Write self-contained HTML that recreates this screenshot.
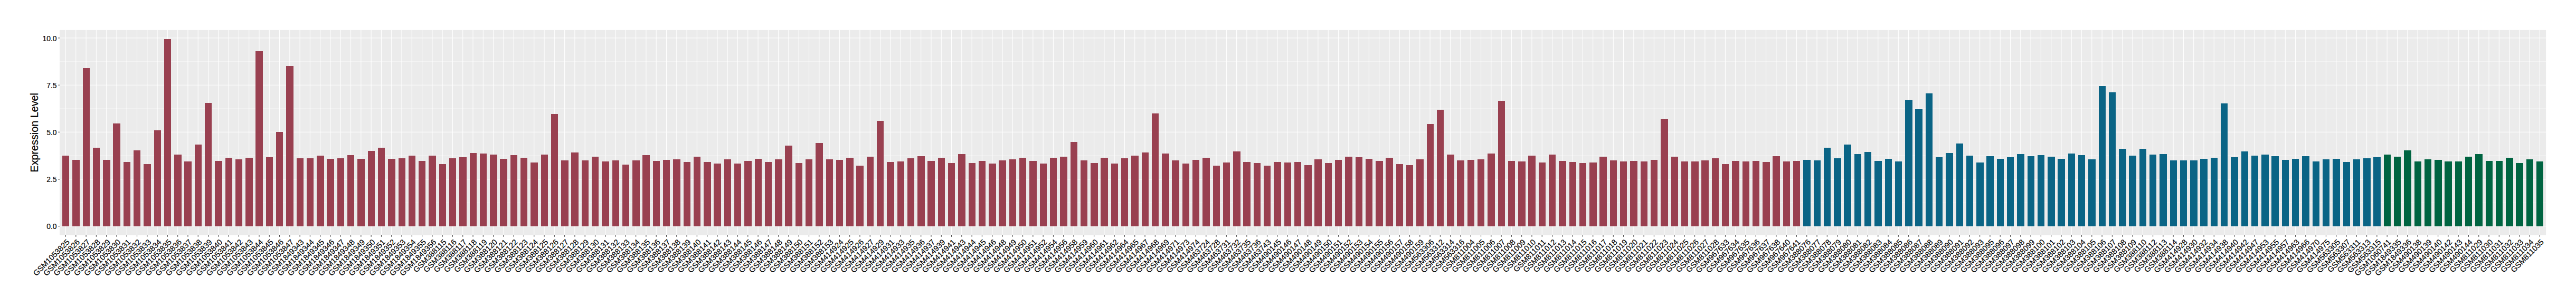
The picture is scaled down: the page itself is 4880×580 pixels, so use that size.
<!DOCTYPE html>
<html lang="en"><head><meta charset="utf-8"><title>Expression Level</title>
<style>html,body{margin:0;padding:0;background:#fff}body{width:4880px;height:580px;overflow:hidden}svg{display:block}text{font-family:"Liberation Sans",sans-serif;fill:#000;stroke:#000;stroke-width:0.2px}.a{font-size:14.67px}.t{font-size:19.75px;stroke-width:0.25px}</style></head><body>
<svg width="4880" height="580" viewBox="0 0 4880 580">
<rect width="4880" height="580" fill="#fff"/>
<rect x="112.95" y="56.85" width="4710.20" height="388.90" fill="#EBEBEB"/>
<path d="M112.95 384.20H4823.15M112.95 295.00H4823.15M112.95 205.80H4823.15M112.95 116.60H4823.15" stroke="#fff" stroke-width="0.53" fill="none"/>
<path d="M112.95 428.80H4823.15M112.95 339.60H4823.15M112.95 250.40H4823.15M112.95 161.20H4823.15M112.95 72.00H4823.15M124.50 56.85V445.75M143.79 56.85V445.75M163.08 56.85V445.75M182.36 56.85V445.75M201.65 56.85V445.75M220.94 56.85V445.75M240.23 56.85V445.75M259.52 56.85V445.75M278.80 56.85V445.75M298.09 56.85V445.75M317.38 56.85V445.75M336.67 56.85V445.75M355.96 56.85V445.75M375.24 56.85V445.75M394.53 56.85V445.75M413.82 56.85V445.75M433.11 56.85V445.75M452.40 56.85V445.75M471.68 56.85V445.75M490.97 56.85V445.75M510.26 56.85V445.75M529.55 56.85V445.75M548.84 56.85V445.75M568.12 56.85V445.75M587.41 56.85V445.75M606.70 56.85V445.75M625.99 56.85V445.75M645.28 56.85V445.75M664.56 56.85V445.75M683.85 56.85V445.75M703.14 56.85V445.75M722.43 56.85V445.75M741.72 56.85V445.75M761.00 56.85V445.75M780.29 56.85V445.75M799.58 56.85V445.75M818.87 56.85V445.75M838.16 56.85V445.75M857.44 56.85V445.75M876.73 56.85V445.75M896.02 56.85V445.75M915.31 56.85V445.75M934.60 56.85V445.75M953.88 56.85V445.75M973.17 56.85V445.75M992.46 56.85V445.75M1011.75 56.85V445.75M1031.04 56.85V445.75M1050.32 56.85V445.75M1069.61 56.85V445.75M1088.90 56.85V445.75M1108.19 56.85V445.75M1127.48 56.85V445.75M1146.76 56.85V445.75M1166.05 56.85V445.75M1185.34 56.85V445.75M1204.63 56.85V445.75M1223.92 56.85V445.75M1243.20 56.85V445.75M1262.49 56.85V445.75M1281.78 56.85V445.75M1301.07 56.85V445.75M1320.36 56.85V445.75M1339.64 56.85V445.75M1358.93 56.85V445.75M1378.22 56.85V445.75M1397.51 56.85V445.75M1416.80 56.85V445.75M1436.08 56.85V445.75M1455.37 56.85V445.75M1474.66 56.85V445.75M1493.95 56.85V445.75M1513.24 56.85V445.75M1532.52 56.85V445.75M1551.81 56.85V445.75M1571.10 56.85V445.75M1590.39 56.85V445.75M1609.68 56.85V445.75M1628.96 56.85V445.75M1648.25 56.85V445.75M1667.54 56.85V445.75M1686.83 56.85V445.75M1706.12 56.85V445.75M1725.40 56.85V445.75M1744.69 56.85V445.75M1763.98 56.85V445.75M1783.27 56.85V445.75M1802.56 56.85V445.75M1821.84 56.85V445.75M1841.13 56.85V445.75M1860.42 56.85V445.75M1879.71 56.85V445.75M1899.00 56.85V445.75M1918.28 56.85V445.75M1937.57 56.85V445.75M1956.86 56.85V445.75M1976.15 56.85V445.75M1995.44 56.85V445.75M2014.72 56.85V445.75M2034.01 56.85V445.75M2053.30 56.85V445.75M2072.59 56.85V445.75M2091.88 56.85V445.75M2111.16 56.85V445.75M2130.45 56.85V445.75M2149.74 56.85V445.75M2169.03 56.85V445.75M2188.32 56.85V445.75M2207.60 56.85V445.75M2226.89 56.85V445.75M2246.18 56.85V445.75M2265.47 56.85V445.75M2284.76 56.85V445.75M2304.04 56.85V445.75M2323.33 56.85V445.75M2342.62 56.85V445.75M2361.91 56.85V445.75M2381.20 56.85V445.75M2400.48 56.85V445.75M2419.77 56.85V445.75M2439.06 56.85V445.75M2458.35 56.85V445.75M2477.64 56.85V445.75M2496.92 56.85V445.75M2516.21 56.85V445.75M2535.50 56.85V445.75M2554.79 56.85V445.75M2574.08 56.85V445.75M2593.36 56.85V445.75M2612.65 56.85V445.75M2631.94 56.85V445.75M2651.23 56.85V445.75M2670.52 56.85V445.75M2689.80 56.85V445.75M2709.09 56.85V445.75M2728.38 56.85V445.75M2747.67 56.85V445.75M2766.96 56.85V445.75M2786.24 56.85V445.75M2805.53 56.85V445.75M2824.82 56.85V445.75M2844.11 56.85V445.75M2863.40 56.85V445.75M2882.68 56.85V445.75M2901.97 56.85V445.75M2921.26 56.85V445.75M2940.55 56.85V445.75M2959.84 56.85V445.75M2979.12 56.85V445.75M2998.41 56.85V445.75M3017.70 56.85V445.75M3036.99 56.85V445.75M3056.28 56.85V445.75M3075.56 56.85V445.75M3094.85 56.85V445.75M3114.14 56.85V445.75M3133.43 56.85V445.75M3152.72 56.85V445.75M3172.00 56.85V445.75M3191.29 56.85V445.75M3210.58 56.85V445.75M3229.87 56.85V445.75M3249.16 56.85V445.75M3268.44 56.85V445.75M3287.73 56.85V445.75M3307.02 56.85V445.75M3326.31 56.85V445.75M3345.60 56.85V445.75M3364.88 56.85V445.75M3384.17 56.85V445.75M3403.46 56.85V445.75M3422.75 56.85V445.75M3442.04 56.85V445.75M3461.32 56.85V445.75M3480.61 56.85V445.75M3499.90 56.85V445.75M3519.19 56.85V445.75M3538.48 56.85V445.75M3557.76 56.85V445.75M3577.05 56.85V445.75M3596.34 56.85V445.75M3615.63 56.85V445.75M3634.92 56.85V445.75M3654.20 56.85V445.75M3673.49 56.85V445.75M3692.78 56.85V445.75M3712.07 56.85V445.75M3731.36 56.85V445.75M3750.64 56.85V445.75M3769.93 56.85V445.75M3789.22 56.85V445.75M3808.51 56.85V445.75M3827.80 56.85V445.75M3847.08 56.85V445.75M3866.37 56.85V445.75M3885.66 56.85V445.75M3904.95 56.85V445.75M3924.24 56.85V445.75M3943.52 56.85V445.75M3962.81 56.85V445.75M3982.10 56.85V445.75M4001.39 56.85V445.75M4020.68 56.85V445.75M4039.96 56.85V445.75M4059.25 56.85V445.75M4078.54 56.85V445.75M4097.83 56.85V445.75M4117.12 56.85V445.75M4136.40 56.85V445.75M4155.69 56.85V445.75M4174.98 56.85V445.75M4194.27 56.85V445.75M4213.56 56.85V445.75M4232.84 56.85V445.75M4252.13 56.85V445.75M4271.42 56.85V445.75M4290.71 56.85V445.75M4310.00 56.85V445.75M4329.28 56.85V445.75M4348.57 56.85V445.75M4367.86 56.85V445.75M4387.15 56.85V445.75M4406.44 56.85V445.75M4425.72 56.85V445.75M4445.01 56.85V445.75M4464.30 56.85V445.75M4483.59 56.85V445.75M4502.88 56.85V445.75M4522.16 56.85V445.75M4541.45 56.85V445.75M4560.74 56.85V445.75M4580.03 56.85V445.75M4599.32 56.85V445.75M4618.60 56.85V445.75M4637.89 56.85V445.75M4657.18 56.85V445.75M4676.47 56.85V445.75M4695.76 56.85V445.75M4715.04 56.85V445.75M4734.33 56.85V445.75M4753.62 56.85V445.75M4772.91 56.85V445.75M4792.20 56.85V445.75M4811.48 56.85V445.75" stroke="#fff" stroke-width="1.07" fill="none"/>
<g fill="#994050" shape-rendering="crispEdges"><rect x="118" y="295" width="13" height="134"/><rect x="137" y="303" width="14" height="126"/><rect x="157" y="129" width="13" height="300"/><rect x="176" y="280" width="13" height="149"/><rect x="195" y="303" width="14" height="126"/><rect x="214" y="234" width="14" height="195"/><rect x="234" y="307" width="13" height="122"/><rect x="253" y="285" width="13" height="144"/><rect x="272" y="311" width="14" height="118"/><rect x="292" y="247" width="13" height="182"/><rect x="311" y="74" width="13" height="355"/><rect x="330" y="293" width="14" height="136"/><rect x="349" y="306" width="14" height="123"/><rect x="369" y="274" width="13" height="155"/><rect x="388" y="195" width="13" height="234"/><rect x="407" y="305" width="14" height="124"/><rect x="427" y="299" width="13" height="130"/><rect x="446" y="302" width="13" height="127"/><rect x="465" y="299" width="14" height="130"/><rect x="484" y="97" width="14" height="332"/><rect x="504" y="298" width="13" height="131"/><rect x="523" y="250" width="13" height="179"/><rect x="542" y="125" width="14" height="304"/><rect x="562" y="300" width="13" height="129"/><rect x="581" y="300" width="13" height="129"/><rect x="600" y="295" width="14" height="134"/><rect x="619" y="301" width="14" height="128"/><rect x="639" y="300" width="13" height="129"/><rect x="658" y="294" width="13" height="135"/><rect x="677" y="301" width="14" height="128"/><rect x="697" y="286" width="13" height="143"/><rect x="716" y="280" width="13" height="149"/><rect x="735" y="301" width="14" height="128"/><rect x="755" y="300" width="13" height="129"/><rect x="774" y="295" width="13" height="134"/><rect x="793" y="305" width="13" height="124"/><rect x="812" y="295" width="14" height="134"/><rect x="832" y="311" width="13" height="118"/><rect x="851" y="300" width="13" height="129"/><rect x="870" y="298" width="14" height="131"/><rect x="890" y="290" width="13" height="139"/><rect x="909" y="291" width="13" height="138"/><rect x="928" y="293" width="14" height="136"/><rect x="947" y="301" width="14" height="128"/><rect x="967" y="294" width="13" height="135"/><rect x="986" y="299" width="13" height="130"/><rect x="1005" y="308" width="14" height="121"/><rect x="1025" y="293" width="13" height="136"/><rect x="1044" y="216" width="13" height="213"/><rect x="1063" y="304" width="14" height="125"/><rect x="1082" y="289" width="14" height="140"/><rect x="1102" y="304" width="13" height="125"/><rect x="1121" y="297" width="13" height="132"/><rect x="1140" y="306" width="14" height="123"/><rect x="1160" y="304" width="13" height="125"/><rect x="1179" y="312" width="13" height="117"/><rect x="1198" y="304" width="14" height="125"/><rect x="1217" y="294" width="14" height="135"/><rect x="1237" y="305" width="13" height="124"/><rect x="1256" y="303" width="13" height="126"/><rect x="1275" y="302" width="14" height="127"/><rect x="1295" y="307" width="13" height="122"/><rect x="1314" y="297" width="13" height="132"/><rect x="1333" y="307" width="14" height="122"/><rect x="1352" y="310" width="14" height="119"/><rect x="1372" y="302" width="13" height="127"/><rect x="1391" y="310" width="13" height="119"/><rect x="1410" y="305" width="14" height="124"/><rect x="1430" y="301" width="13" height="128"/><rect x="1449" y="307" width="13" height="122"/><rect x="1468" y="302" width="14" height="127"/><rect x="1487" y="276" width="14" height="153"/><rect x="1507" y="309" width="13" height="120"/><rect x="1526" y="302" width="13" height="127"/><rect x="1545" y="271" width="14" height="158"/><rect x="1565" y="302" width="13" height="127"/><rect x="1584" y="303" width="13" height="126"/><rect x="1603" y="299" width="14" height="130"/><rect x="1622" y="314" width="14" height="115"/><rect x="1642" y="297" width="13" height="132"/><rect x="1661" y="229" width="13" height="200"/><rect x="1680" y="307" width="14" height="122"/><rect x="1700" y="306" width="13" height="123"/><rect x="1719" y="300" width="13" height="129"/><rect x="1738" y="296" width="14" height="133"/><rect x="1757" y="305" width="14" height="124"/><rect x="1777" y="299" width="13" height="130"/><rect x="1796" y="309" width="13" height="120"/><rect x="1815" y="292" width="14" height="137"/><rect x="1835" y="309" width="13" height="120"/><rect x="1854" y="305" width="13" height="124"/><rect x="1873" y="310" width="14" height="119"/><rect x="1892" y="304" width="14" height="125"/><rect x="1912" y="302" width="13" height="127"/><rect x="1931" y="299" width="13" height="130"/><rect x="1950" y="305" width="14" height="124"/><rect x="1970" y="310" width="13" height="119"/><rect x="1989" y="299" width="13" height="130"/><rect x="2008" y="297" width="14" height="132"/><rect x="2028" y="269" width="13" height="160"/><rect x="2047" y="304" width="13" height="125"/><rect x="2066" y="309" width="14" height="120"/><rect x="2085" y="299" width="14" height="130"/><rect x="2105" y="310" width="13" height="119"/><rect x="2124" y="300" width="13" height="129"/><rect x="2143" y="295" width="14" height="134"/><rect x="2163" y="289" width="13" height="140"/><rect x="2182" y="215" width="13" height="214"/><rect x="2201" y="291" width="14" height="138"/><rect x="2220" y="304" width="14" height="125"/><rect x="2240" y="310" width="13" height="119"/><rect x="2259" y="303" width="13" height="126"/><rect x="2278" y="299" width="14" height="130"/><rect x="2298" y="314" width="13" height="115"/><rect x="2317" y="308" width="13" height="121"/><rect x="2336" y="287" width="14" height="142"/><rect x="2355" y="307" width="14" height="122"/><rect x="2375" y="309" width="13" height="120"/><rect x="2394" y="314" width="13" height="115"/><rect x="2413" y="307" width="14" height="122"/><rect x="2433" y="308" width="13" height="121"/><rect x="2452" y="307" width="13" height="122"/><rect x="2471" y="313" width="14" height="116"/><rect x="2490" y="302" width="14" height="127"/><rect x="2510" y="309" width="13" height="120"/><rect x="2529" y="303" width="13" height="126"/><rect x="2548" y="297" width="14" height="132"/><rect x="2568" y="298" width="13" height="131"/><rect x="2587" y="301" width="13" height="128"/><rect x="2606" y="305" width="14" height="124"/><rect x="2625" y="299" width="14" height="130"/><rect x="2645" y="311" width="13" height="118"/><rect x="2664" y="313" width="13" height="116"/><rect x="2683" y="302" width="14" height="127"/><rect x="2703" y="235" width="13" height="194"/><rect x="2722" y="208" width="13" height="221"/><rect x="2741" y="293" width="14" height="136"/><rect x="2760" y="304" width="14" height="125"/><rect x="2780" y="303" width="13" height="126"/><rect x="2799" y="302" width="13" height="127"/><rect x="2818" y="291" width="14" height="138"/><rect x="2838" y="191" width="13" height="238"/><rect x="2857" y="305" width="13" height="124"/><rect x="2876" y="306" width="14" height="123"/><rect x="2895" y="295" width="14" height="134"/><rect x="2915" y="308" width="13" height="121"/><rect x="2934" y="293" width="13" height="136"/><rect x="2953" y="305" width="14" height="124"/><rect x="2973" y="307" width="13" height="122"/><rect x="2992" y="309" width="13" height="120"/><rect x="3011" y="308" width="14" height="121"/><rect x="3030" y="297" width="14" height="132"/><rect x="3050" y="304" width="13" height="125"/><rect x="3069" y="306" width="13" height="123"/><rect x="3088" y="305" width="14" height="124"/><rect x="3108" y="306" width="13" height="123"/><rect x="3127" y="303" width="13" height="126"/><rect x="3146" y="226" width="14" height="203"/><rect x="3166" y="297" width="13" height="132"/><rect x="3185" y="306" width="13" height="123"/><rect x="3204" y="306" width="14" height="123"/><rect x="3223" y="304" width="14" height="125"/><rect x="3243" y="300" width="13" height="129"/><rect x="3262" y="311" width="13" height="118"/><rect x="3281" y="305" width="14" height="124"/><rect x="3301" y="306" width="13" height="123"/><rect x="3320" y="305" width="13" height="124"/><rect x="3339" y="307" width="14" height="122"/><rect x="3358" y="296" width="14" height="133"/><rect x="3378" y="306" width="13" height="123"/><rect x="3397" y="305" width="13" height="124"/></g>
<g fill="#0A6485" shape-rendering="crispEdges"><rect x="3416" y="303" width="14" height="126"/><rect x="3436" y="304" width="13" height="125"/><rect x="3455" y="280" width="13" height="149"/><rect x="3474" y="300" width="14" height="129"/><rect x="3493" y="274" width="14" height="155"/><rect x="3513" y="292" width="13" height="137"/><rect x="3532" y="288" width="13" height="141"/><rect x="3551" y="305" width="14" height="124"/><rect x="3571" y="301" width="13" height="128"/><rect x="3590" y="306" width="13" height="123"/><rect x="3609" y="190" width="14" height="239"/><rect x="3628" y="207" width="14" height="222"/><rect x="3648" y="177" width="13" height="252"/><rect x="3667" y="298" width="13" height="131"/><rect x="3686" y="290" width="14" height="139"/><rect x="3706" y="272" width="13" height="157"/><rect x="3725" y="295" width="13" height="134"/><rect x="3744" y="308" width="14" height="121"/><rect x="3763" y="296" width="14" height="133"/><rect x="3783" y="301" width="13" height="128"/><rect x="3802" y="298" width="13" height="131"/><rect x="3821" y="292" width="14" height="137"/><rect x="3841" y="296" width="13" height="133"/><rect x="3860" y="294" width="13" height="135"/><rect x="3879" y="297" width="14" height="132"/><rect x="3898" y="301" width="14" height="128"/><rect x="3918" y="291" width="13" height="138"/><rect x="3937" y="294" width="13" height="135"/><rect x="3956" y="302" width="14" height="127"/><rect x="3976" y="163" width="13" height="266"/><rect x="3995" y="175" width="13" height="254"/><rect x="4014" y="282" width="14" height="147"/><rect x="4033" y="295" width="14" height="134"/><rect x="4053" y="282" width="13" height="147"/><rect x="4072" y="293" width="13" height="136"/><rect x="4091" y="292" width="14" height="137"/><rect x="4111" y="304" width="13" height="125"/><rect x="4130" y="304" width="13" height="125"/><rect x="4149" y="304" width="14" height="125"/><rect x="4168" y="301" width="14" height="128"/><rect x="4188" y="299" width="13" height="130"/><rect x="4207" y="196" width="13" height="233"/><rect x="4226" y="298" width="14" height="131"/><rect x="4246" y="287" width="13" height="142"/><rect x="4265" y="295" width="13" height="134"/><rect x="4284" y="293" width="14" height="136"/><rect x="4303" y="296" width="14" height="133"/><rect x="4323" y="303" width="13" height="126"/><rect x="4342" y="301" width="13" height="128"/><rect x="4361" y="296" width="14" height="133"/><rect x="4381" y="306" width="13" height="123"/><rect x="4400" y="302" width="13" height="127"/><rect x="4419" y="301" width="14" height="128"/><rect x="4439" y="307" width="13" height="122"/><rect x="4458" y="302" width="13" height="127"/><rect x="4477" y="300" width="14" height="129"/><rect x="4496" y="298" width="14" height="131"/></g>
<g fill="#006441" shape-rendering="crispEdges"><rect x="4516" y="293" width="13" height="136"/><rect x="4535" y="297" width="13" height="132"/><rect x="4554" y="285" width="14" height="144"/><rect x="4574" y="306" width="13" height="123"/><rect x="4593" y="302" width="13" height="127"/><rect x="4612" y="303" width="14" height="126"/><rect x="4631" y="306" width="14" height="123"/><rect x="4651" y="306" width="13" height="123"/><rect x="4670" y="297" width="13" height="132"/><rect x="4689" y="292" width="14" height="137"/><rect x="4709" y="305" width="13" height="124"/><rect x="4728" y="305" width="13" height="124"/><rect x="4747" y="299" width="14" height="130"/><rect x="4766" y="309" width="14" height="120"/><rect x="4786" y="302" width="13" height="127"/><rect x="4805" y="306" width="13" height="123"/></g>
<path d="M110.20 428.80H112.95M110.20 339.60H112.95M110.20 250.40H112.95M110.20 161.20H112.95M110.20 72.00H112.95M124.50 445.75V448.65M143.79 445.75V448.65M163.08 445.75V448.65M182.36 445.75V448.65M201.65 445.75V448.65M220.94 445.75V448.65M240.23 445.75V448.65M259.52 445.75V448.65M278.80 445.75V448.65M298.09 445.75V448.65M317.38 445.75V448.65M336.67 445.75V448.65M355.96 445.75V448.65M375.24 445.75V448.65M394.53 445.75V448.65M413.82 445.75V448.65M433.11 445.75V448.65M452.40 445.75V448.65M471.68 445.75V448.65M490.97 445.75V448.65M510.26 445.75V448.65M529.55 445.75V448.65M548.84 445.75V448.65M568.12 445.75V448.65M587.41 445.75V448.65M606.70 445.75V448.65M625.99 445.75V448.65M645.28 445.75V448.65M664.56 445.75V448.65M683.85 445.75V448.65M703.14 445.75V448.65M722.43 445.75V448.65M741.72 445.75V448.65M761.00 445.75V448.65M780.29 445.75V448.65M799.58 445.75V448.65M818.87 445.75V448.65M838.16 445.75V448.65M857.44 445.75V448.65M876.73 445.75V448.65M896.02 445.75V448.65M915.31 445.75V448.65M934.60 445.75V448.65M953.88 445.75V448.65M973.17 445.75V448.65M992.46 445.75V448.65M1011.75 445.75V448.65M1031.04 445.75V448.65M1050.32 445.75V448.65M1069.61 445.75V448.65M1088.90 445.75V448.65M1108.19 445.75V448.65M1127.48 445.75V448.65M1146.76 445.75V448.65M1166.05 445.75V448.65M1185.34 445.75V448.65M1204.63 445.75V448.65M1223.92 445.75V448.65M1243.20 445.75V448.65M1262.49 445.75V448.65M1281.78 445.75V448.65M1301.07 445.75V448.65M1320.36 445.75V448.65M1339.64 445.75V448.65M1358.93 445.75V448.65M1378.22 445.75V448.65M1397.51 445.75V448.65M1416.80 445.75V448.65M1436.08 445.75V448.65M1455.37 445.75V448.65M1474.66 445.75V448.65M1493.95 445.75V448.65M1513.24 445.75V448.65M1532.52 445.75V448.65M1551.81 445.75V448.65M1571.10 445.75V448.65M1590.39 445.75V448.65M1609.68 445.75V448.65M1628.96 445.75V448.65M1648.25 445.75V448.65M1667.54 445.75V448.65M1686.83 445.75V448.65M1706.12 445.75V448.65M1725.40 445.75V448.65M1744.69 445.75V448.65M1763.98 445.75V448.65M1783.27 445.75V448.65M1802.56 445.75V448.65M1821.84 445.75V448.65M1841.13 445.75V448.65M1860.42 445.75V448.65M1879.71 445.75V448.65M1899.00 445.75V448.65M1918.28 445.75V448.65M1937.57 445.75V448.65M1956.86 445.75V448.65M1976.15 445.75V448.65M1995.44 445.75V448.65M2014.72 445.75V448.65M2034.01 445.75V448.65M2053.30 445.75V448.65M2072.59 445.75V448.65M2091.88 445.75V448.65M2111.16 445.75V448.65M2130.45 445.75V448.65M2149.74 445.75V448.65M2169.03 445.75V448.65M2188.32 445.75V448.65M2207.60 445.75V448.65M2226.89 445.75V448.65M2246.18 445.75V448.65M2265.47 445.75V448.65M2284.76 445.75V448.65M2304.04 445.75V448.65M2323.33 445.75V448.65M2342.62 445.75V448.65M2361.91 445.75V448.65M2381.20 445.75V448.65M2400.48 445.75V448.65M2419.77 445.75V448.65M2439.06 445.75V448.65M2458.35 445.75V448.65M2477.64 445.75V448.65M2496.92 445.75V448.65M2516.21 445.75V448.65M2535.50 445.75V448.65M2554.79 445.75V448.65M2574.08 445.75V448.65M2593.36 445.75V448.65M2612.65 445.75V448.65M2631.94 445.75V448.65M2651.23 445.75V448.65M2670.52 445.75V448.65M2689.80 445.75V448.65M2709.09 445.75V448.65M2728.38 445.75V448.65M2747.67 445.75V448.65M2766.96 445.75V448.65M2786.24 445.75V448.65M2805.53 445.75V448.65M2824.82 445.75V448.65M2844.11 445.75V448.65M2863.40 445.75V448.65M2882.68 445.75V448.65M2901.97 445.75V448.65M2921.26 445.75V448.65M2940.55 445.75V448.65M2959.84 445.75V448.65M2979.12 445.75V448.65M2998.41 445.75V448.65M3017.70 445.75V448.65M3036.99 445.75V448.65M3056.28 445.75V448.65M3075.56 445.75V448.65M3094.85 445.75V448.65M3114.14 445.75V448.65M3133.43 445.75V448.65M3152.72 445.75V448.65M3172.00 445.75V448.65M3191.29 445.75V448.65M3210.58 445.75V448.65M3229.87 445.75V448.65M3249.16 445.75V448.65M3268.44 445.75V448.65M3287.73 445.75V448.65M3307.02 445.75V448.65M3326.31 445.75V448.65M3345.60 445.75V448.65M3364.88 445.75V448.65M3384.17 445.75V448.65M3403.46 445.75V448.65M3422.75 445.75V448.65M3442.04 445.75V448.65M3461.32 445.75V448.65M3480.61 445.75V448.65M3499.90 445.75V448.65M3519.19 445.75V448.65M3538.48 445.75V448.65M3557.76 445.75V448.65M3577.05 445.75V448.65M3596.34 445.75V448.65M3615.63 445.75V448.65M3634.92 445.75V448.65M3654.20 445.75V448.65M3673.49 445.75V448.65M3692.78 445.75V448.65M3712.07 445.75V448.65M3731.36 445.75V448.65M3750.64 445.75V448.65M3769.93 445.75V448.65M3789.22 445.75V448.65M3808.51 445.75V448.65M3827.80 445.75V448.65M3847.08 445.75V448.65M3866.37 445.75V448.65M3885.66 445.75V448.65M3904.95 445.75V448.65M3924.24 445.75V448.65M3943.52 445.75V448.65M3962.81 445.75V448.65M3982.10 445.75V448.65M4001.39 445.75V448.65M4020.68 445.75V448.65M4039.96 445.75V448.65M4059.25 445.75V448.65M4078.54 445.75V448.65M4097.83 445.75V448.65M4117.12 445.75V448.65M4136.40 445.75V448.65M4155.69 445.75V448.65M4174.98 445.75V448.65M4194.27 445.75V448.65M4213.56 445.75V448.65M4232.84 445.75V448.65M4252.13 445.75V448.65M4271.42 445.75V448.65M4290.71 445.75V448.65M4310.00 445.75V448.65M4329.28 445.75V448.65M4348.57 445.75V448.65M4367.86 445.75V448.65M4387.15 445.75V448.65M4406.44 445.75V448.65M4425.72 445.75V448.65M4445.01 445.75V448.65M4464.30 445.75V448.65M4483.59 445.75V448.65M4502.88 445.75V448.65M4522.16 445.75V448.65M4541.45 445.75V448.65M4560.74 445.75V448.65M4580.03 445.75V448.65M4599.32 445.75V448.65M4618.60 445.75V448.65M4637.89 445.75V448.65M4657.18 445.75V448.65M4676.47 445.75V448.65M4695.76 445.75V448.65M4715.04 445.75V448.65M4734.33 445.75V448.65M4753.62 445.75V448.65M4772.91 445.75V448.65M4792.20 445.75V448.65M4811.48 445.75V448.65" stroke="#333" stroke-width="1.07" fill="none"/>
<g class="a" text-anchor="end">
<text transform="translate(107.6 434.00) scale(0.95 1)">0.0</text>
<text transform="translate(107.6 345.00) scale(0.95 1)">2.5</text>
<text transform="translate(107.6 256.00) scale(0.95 1)">5.0</text>
<text transform="translate(107.6 167.00) scale(0.95 1)">7.5</text>
<text transform="translate(107.6 78.00) scale(0.95 1)">10.0</text>
</g>
<g class="a" text-anchor="end">
<text transform="translate(124.72 451.65) rotate(-45)" y="11.50">GSM1053825</text>
<text transform="translate(144.01 451.65) rotate(-45)" y="11.50">GSM1053826</text>
<text transform="translate(163.30 451.65) rotate(-45)" y="11.50">GSM1053827</text>
<text transform="translate(182.58 451.65) rotate(-45)" y="11.50">GSM1053828</text>
<text transform="translate(201.87 451.65) rotate(-45)" y="11.50">GSM1053829</text>
<text transform="translate(221.16 451.65) rotate(-45)" y="11.50">GSM1053830</text>
<text transform="translate(240.45 451.65) rotate(-45)" y="11.50">GSM1053831</text>
<text transform="translate(259.74 451.65) rotate(-45)" y="11.50">GSM1053832</text>
<text transform="translate(279.02 451.65) rotate(-45)" y="11.50">GSM1053833</text>
<text transform="translate(298.31 451.65) rotate(-45)" y="11.50">GSM1053834</text>
<text transform="translate(317.60 451.65) rotate(-45)" y="11.50">GSM1053835</text>
<text transform="translate(336.89 451.65) rotate(-45)" y="11.50">GSM1053836</text>
<text transform="translate(356.18 451.65) rotate(-45)" y="11.50">GSM1053837</text>
<text transform="translate(375.46 451.65) rotate(-45)" y="11.50">GSM1053838</text>
<text transform="translate(394.75 451.65) rotate(-45)" y="11.50">GSM1053839</text>
<text transform="translate(414.04 451.65) rotate(-45)" y="11.50">GSM1053840</text>
<text transform="translate(433.33 451.65) rotate(-45)" y="11.50">GSM1053841</text>
<text transform="translate(452.62 451.65) rotate(-45)" y="11.50">GSM1053842</text>
<text transform="translate(471.90 451.65) rotate(-45)" y="11.50">GSM1053843</text>
<text transform="translate(491.19 451.65) rotate(-45)" y="11.50">GSM1053844</text>
<text transform="translate(510.48 451.65) rotate(-45)" y="11.50">GSM1053845</text>
<text transform="translate(529.77 451.65) rotate(-45)" y="11.50">GSM1053846</text>
<text transform="translate(549.06 451.65) rotate(-45)" y="11.50">GSM1053847</text>
<text transform="translate(568.34 451.65) rotate(-45)" y="11.50">GSM1849343</text>
<text transform="translate(587.63 451.65) rotate(-45)" y="11.50">GSM1849344</text>
<text transform="translate(606.92 451.65) rotate(-45)" y="11.50">GSM1849345</text>
<text transform="translate(626.21 451.65) rotate(-45)" y="11.50">GSM1849346</text>
<text transform="translate(645.50 451.65) rotate(-45)" y="11.50">GSM1849347</text>
<text transform="translate(664.78 451.65) rotate(-45)" y="11.50">GSM1849348</text>
<text transform="translate(684.07 451.65) rotate(-45)" y="11.50">GSM1849349</text>
<text transform="translate(703.36 451.65) rotate(-45)" y="11.50">GSM1849350</text>
<text transform="translate(722.65 451.65) rotate(-45)" y="11.50">GSM1849351</text>
<text transform="translate(741.94 451.65) rotate(-45)" y="11.50">GSM1849352</text>
<text transform="translate(761.22 451.65) rotate(-45)" y="11.50">GSM1849353</text>
<text transform="translate(780.51 451.65) rotate(-45)" y="11.50">GSM1849354</text>
<text transform="translate(799.80 451.65) rotate(-45)" y="11.50">GSM1849355</text>
<text transform="translate(819.09 451.65) rotate(-45)" y="11.50">GSM1849356</text>
<text transform="translate(838.38 451.65) rotate(-45)" y="11.50">GSM388115</text>
<text transform="translate(857.66 451.65) rotate(-45)" y="11.50">GSM388116</text>
<text transform="translate(876.95 451.65) rotate(-45)" y="11.50">GSM388117</text>
<text transform="translate(896.24 451.65) rotate(-45)" y="11.50">GSM388118</text>
<text transform="translate(915.53 451.65) rotate(-45)" y="11.50">GSM388119</text>
<text transform="translate(934.82 451.65) rotate(-45)" y="11.50">GSM388120</text>
<text transform="translate(954.10 451.65) rotate(-45)" y="11.50">GSM388121</text>
<text transform="translate(973.39 451.65) rotate(-45)" y="11.50">GSM388122</text>
<text transform="translate(992.68 451.65) rotate(-45)" y="11.50">GSM388123</text>
<text transform="translate(1011.97 451.65) rotate(-45)" y="11.50">GSM388124</text>
<text transform="translate(1031.26 451.65) rotate(-45)" y="11.50">GSM388125</text>
<text transform="translate(1050.54 451.65) rotate(-45)" y="11.50">GSM388126</text>
<text transform="translate(1069.83 451.65) rotate(-45)" y="11.50">GSM388127</text>
<text transform="translate(1089.12 451.65) rotate(-45)" y="11.50">GSM388128</text>
<text transform="translate(1108.41 451.65) rotate(-45)" y="11.50">GSM388129</text>
<text transform="translate(1127.70 451.65) rotate(-45)" y="11.50">GSM388130</text>
<text transform="translate(1146.98 451.65) rotate(-45)" y="11.50">GSM388131</text>
<text transform="translate(1166.27 451.65) rotate(-45)" y="11.50">GSM388132</text>
<text transform="translate(1185.56 451.65) rotate(-45)" y="11.50">GSM388133</text>
<text transform="translate(1204.85 451.65) rotate(-45)" y="11.50">GSM388134</text>
<text transform="translate(1224.14 451.65) rotate(-45)" y="11.50">GSM388135</text>
<text transform="translate(1243.42 451.65) rotate(-45)" y="11.50">GSM388136</text>
<text transform="translate(1262.71 451.65) rotate(-45)" y="11.50">GSM388137</text>
<text transform="translate(1282.00 451.65) rotate(-45)" y="11.50">GSM388138</text>
<text transform="translate(1301.29 451.65) rotate(-45)" y="11.50">GSM388139</text>
<text transform="translate(1320.58 451.65) rotate(-45)" y="11.50">GSM388140</text>
<text transform="translate(1339.86 451.65) rotate(-45)" y="11.50">GSM388141</text>
<text transform="translate(1359.15 451.65) rotate(-45)" y="11.50">GSM388142</text>
<text transform="translate(1378.44 451.65) rotate(-45)" y="11.50">GSM388143</text>
<text transform="translate(1397.73 451.65) rotate(-45)" y="11.50">GSM388144</text>
<text transform="translate(1417.02 451.65) rotate(-45)" y="11.50">GSM388145</text>
<text transform="translate(1436.30 451.65) rotate(-45)" y="11.50">GSM388146</text>
<text transform="translate(1455.59 451.65) rotate(-45)" y="11.50">GSM388147</text>
<text transform="translate(1474.88 451.65) rotate(-45)" y="11.50">GSM388148</text>
<text transform="translate(1494.17 451.65) rotate(-45)" y="11.50">GSM388149</text>
<text transform="translate(1513.46 451.65) rotate(-45)" y="11.50">GSM388150</text>
<text transform="translate(1532.74 451.65) rotate(-45)" y="11.50">GSM388151</text>
<text transform="translate(1552.03 451.65) rotate(-45)" y="11.50">GSM388152</text>
<text transform="translate(1571.32 451.65) rotate(-45)" y="11.50">GSM388153</text>
<text transform="translate(1590.61 451.65) rotate(-45)" y="11.50">GSM414924</text>
<text transform="translate(1609.90 451.65) rotate(-45)" y="11.50">GSM414925</text>
<text transform="translate(1629.18 451.65) rotate(-45)" y="11.50">GSM414926</text>
<text transform="translate(1648.47 451.65) rotate(-45)" y="11.50">GSM414927</text>
<text transform="translate(1667.76 451.65) rotate(-45)" y="11.50">GSM414929</text>
<text transform="translate(1687.05 451.65) rotate(-45)" y="11.50">GSM414931</text>
<text transform="translate(1706.34 451.65) rotate(-45)" y="11.50">GSM414933</text>
<text transform="translate(1725.62 451.65) rotate(-45)" y="11.50">GSM414935</text>
<text transform="translate(1744.91 451.65) rotate(-45)" y="11.50">GSM414936</text>
<text transform="translate(1764.20 451.65) rotate(-45)" y="11.50">GSM414937</text>
<text transform="translate(1783.49 451.65) rotate(-45)" y="11.50">GSM414939</text>
<text transform="translate(1802.78 451.65) rotate(-45)" y="11.50">GSM414941</text>
<text transform="translate(1822.06 451.65) rotate(-45)" y="11.50">GSM414943</text>
<text transform="translate(1841.35 451.65) rotate(-45)" y="11.50">GSM414944</text>
<text transform="translate(1860.64 451.65) rotate(-45)" y="11.50">GSM414945</text>
<text transform="translate(1879.93 451.65) rotate(-45)" y="11.50">GSM414946</text>
<text transform="translate(1899.22 451.65) rotate(-45)" y="11.50">GSM414948</text>
<text transform="translate(1918.50 451.65) rotate(-45)" y="11.50">GSM414949</text>
<text transform="translate(1937.79 451.65) rotate(-45)" y="11.50">GSM414950</text>
<text transform="translate(1957.08 451.65) rotate(-45)" y="11.50">GSM414951</text>
<text transform="translate(1976.37 451.65) rotate(-45)" y="11.50">GSM414952</text>
<text transform="translate(1995.66 451.65) rotate(-45)" y="11.50">GSM414954</text>
<text transform="translate(2014.94 451.65) rotate(-45)" y="11.50">GSM414956</text>
<text transform="translate(2034.23 451.65) rotate(-45)" y="11.50">GSM414958</text>
<text transform="translate(2053.52 451.65) rotate(-45)" y="11.50">GSM414959</text>
<text transform="translate(2072.81 451.65) rotate(-45)" y="11.50">GSM414960</text>
<text transform="translate(2092.10 451.65) rotate(-45)" y="11.50">GSM414961</text>
<text transform="translate(2111.38 451.65) rotate(-45)" y="11.50">GSM414962</text>
<text transform="translate(2130.67 451.65) rotate(-45)" y="11.50">GSM414964</text>
<text transform="translate(2149.96 451.65) rotate(-45)" y="11.50">GSM414965</text>
<text transform="translate(2169.25 451.65) rotate(-45)" y="11.50">GSM414967</text>
<text transform="translate(2188.54 451.65) rotate(-45)" y="11.50">GSM414968</text>
<text transform="translate(2207.82 451.65) rotate(-45)" y="11.50">GSM414969</text>
<text transform="translate(2227.11 451.65) rotate(-45)" y="11.50">GSM414971</text>
<text transform="translate(2246.40 451.65) rotate(-45)" y="11.50">GSM414973</text>
<text transform="translate(2265.69 451.65) rotate(-45)" y="11.50">GSM414974</text>
<text transform="translate(2284.98 451.65) rotate(-45)" y="11.50">GSM463724</text>
<text transform="translate(2304.26 451.65) rotate(-45)" y="11.50">GSM463728</text>
<text transform="translate(2323.55 451.65) rotate(-45)" y="11.50">GSM463731</text>
<text transform="translate(2342.84 451.65) rotate(-45)" y="11.50">GSM463732</text>
<text transform="translate(2362.13 451.65) rotate(-45)" y="11.50">GSM463735</text>
<text transform="translate(2381.42 451.65) rotate(-45)" y="11.50">GSM463736</text>
<text transform="translate(2400.70 451.65) rotate(-45)" y="11.50">GSM463743</text>
<text transform="translate(2419.99 451.65) rotate(-45)" y="11.50">GSM490145</text>
<text transform="translate(2439.28 451.65) rotate(-45)" y="11.50">GSM490146</text>
<text transform="translate(2458.57 451.65) rotate(-45)" y="11.50">GSM490147</text>
<text transform="translate(2477.86 451.65) rotate(-45)" y="11.50">GSM490148</text>
<text transform="translate(2497.14 451.65) rotate(-45)" y="11.50">GSM490149</text>
<text transform="translate(2516.43 451.65) rotate(-45)" y="11.50">GSM490150</text>
<text transform="translate(2535.72 451.65) rotate(-45)" y="11.50">GSM490151</text>
<text transform="translate(2555.01 451.65) rotate(-45)" y="11.50">GSM490152</text>
<text transform="translate(2574.30 451.65) rotate(-45)" y="11.50">GSM490153</text>
<text transform="translate(2593.58 451.65) rotate(-45)" y="11.50">GSM490154</text>
<text transform="translate(2612.87 451.65) rotate(-45)" y="11.50">GSM490155</text>
<text transform="translate(2632.16 451.65) rotate(-45)" y="11.50">GSM490156</text>
<text transform="translate(2651.45 451.65) rotate(-45)" y="11.50">GSM490157</text>
<text transform="translate(2670.74 451.65) rotate(-45)" y="11.50">GSM490158</text>
<text transform="translate(2690.02 451.65) rotate(-45)" y="11.50">GSM490159</text>
<text transform="translate(2709.31 451.65) rotate(-45)" y="11.50">GSM563306</text>
<text transform="translate(2728.60 451.65) rotate(-45)" y="11.50">GSM563312</text>
<text transform="translate(2747.89 451.65) rotate(-45)" y="11.50">GSM563314</text>
<text transform="translate(2767.18 451.65) rotate(-45)" y="11.50">GSM563316</text>
<text transform="translate(2786.46 451.65) rotate(-45)" y="11.50">GSM811004</text>
<text transform="translate(2805.75 451.65) rotate(-45)" y="11.50">GSM811005</text>
<text transform="translate(2825.04 451.65) rotate(-45)" y="11.50">GSM811006</text>
<text transform="translate(2844.33 451.65) rotate(-45)" y="11.50">GSM811007</text>
<text transform="translate(2863.62 451.65) rotate(-45)" y="11.50">GSM811008</text>
<text transform="translate(2882.90 451.65) rotate(-45)" y="11.50">GSM811009</text>
<text transform="translate(2902.19 451.65) rotate(-45)" y="11.50">GSM811010</text>
<text transform="translate(2921.48 451.65) rotate(-45)" y="11.50">GSM811011</text>
<text transform="translate(2940.77 451.65) rotate(-45)" y="11.50">GSM811012</text>
<text transform="translate(2960.06 451.65) rotate(-45)" y="11.50">GSM811013</text>
<text transform="translate(2979.34 451.65) rotate(-45)" y="11.50">GSM811014</text>
<text transform="translate(2998.63 451.65) rotate(-45)" y="11.50">GSM811015</text>
<text transform="translate(3017.92 451.65) rotate(-45)" y="11.50">GSM811016</text>
<text transform="translate(3037.21 451.65) rotate(-45)" y="11.50">GSM811017</text>
<text transform="translate(3056.50 451.65) rotate(-45)" y="11.50">GSM811018</text>
<text transform="translate(3075.78 451.65) rotate(-45)" y="11.50">GSM811019</text>
<text transform="translate(3095.07 451.65) rotate(-45)" y="11.50">GSM811020</text>
<text transform="translate(3114.36 451.65) rotate(-45)" y="11.50">GSM811021</text>
<text transform="translate(3133.65 451.65) rotate(-45)" y="11.50">GSM811022</text>
<text transform="translate(3152.94 451.65) rotate(-45)" y="11.50">GSM811023</text>
<text transform="translate(3172.22 451.65) rotate(-45)" y="11.50">GSM811024</text>
<text transform="translate(3191.51 451.65) rotate(-45)" y="11.50">GSM811025</text>
<text transform="translate(3210.80 451.65) rotate(-45)" y="11.50">GSM811026</text>
<text transform="translate(3230.09 451.65) rotate(-45)" y="11.50">GSM811027</text>
<text transform="translate(3249.38 451.65) rotate(-45)" y="11.50">GSM811028</text>
<text transform="translate(3268.66 451.65) rotate(-45)" y="11.50">GSM967633</text>
<text transform="translate(3287.95 451.65) rotate(-45)" y="11.50">GSM967634</text>
<text transform="translate(3307.24 451.65) rotate(-45)" y="11.50">GSM967635</text>
<text transform="translate(3326.53 451.65) rotate(-45)" y="11.50">GSM967636</text>
<text transform="translate(3345.82 451.65) rotate(-45)" y="11.50">GSM967637</text>
<text transform="translate(3365.10 451.65) rotate(-45)" y="11.50">GSM967638</text>
<text transform="translate(3384.39 451.65) rotate(-45)" y="11.50">GSM967640</text>
<text transform="translate(3403.68 451.65) rotate(-45)" y="11.50">GSM967641</text>
<text transform="translate(3422.97 451.65) rotate(-45)" y="11.50">GSM388076</text>
<text transform="translate(3442.26 451.65) rotate(-45)" y="11.50">GSM388077</text>
<text transform="translate(3461.54 451.65) rotate(-45)" y="11.50">GSM388078</text>
<text transform="translate(3480.83 451.65) rotate(-45)" y="11.50">GSM388079</text>
<text transform="translate(3500.12 451.65) rotate(-45)" y="11.50">GSM388080</text>
<text transform="translate(3519.41 451.65) rotate(-45)" y="11.50">GSM388081</text>
<text transform="translate(3538.70 451.65) rotate(-45)" y="11.50">GSM388082</text>
<text transform="translate(3557.98 451.65) rotate(-45)" y="11.50">GSM388083</text>
<text transform="translate(3577.27 451.65) rotate(-45)" y="11.50">GSM388084</text>
<text transform="translate(3596.56 451.65) rotate(-45)" y="11.50">GSM388085</text>
<text transform="translate(3615.85 451.65) rotate(-45)" y="11.50">GSM388086</text>
<text transform="translate(3635.14 451.65) rotate(-45)" y="11.50">GSM388087</text>
<text transform="translate(3654.42 451.65) rotate(-45)" y="11.50">GSM388088</text>
<text transform="translate(3673.71 451.65) rotate(-45)" y="11.50">GSM388089</text>
<text transform="translate(3693.00 451.65) rotate(-45)" y="11.50">GSM388090</text>
<text transform="translate(3712.29 451.65) rotate(-45)" y="11.50">GSM388091</text>
<text transform="translate(3731.58 451.65) rotate(-45)" y="11.50">GSM388092</text>
<text transform="translate(3750.86 451.65) rotate(-45)" y="11.50">GSM388093</text>
<text transform="translate(3770.15 451.65) rotate(-45)" y="11.50">GSM388095</text>
<text transform="translate(3789.44 451.65) rotate(-45)" y="11.50">GSM388096</text>
<text transform="translate(3808.73 451.65) rotate(-45)" y="11.50">GSM388097</text>
<text transform="translate(3828.02 451.65) rotate(-45)" y="11.50">GSM388098</text>
<text transform="translate(3847.30 451.65) rotate(-45)" y="11.50">GSM388099</text>
<text transform="translate(3866.59 451.65) rotate(-45)" y="11.50">GSM388100</text>
<text transform="translate(3885.88 451.65) rotate(-45)" y="11.50">GSM388101</text>
<text transform="translate(3905.17 451.65) rotate(-45)" y="11.50">GSM388102</text>
<text transform="translate(3924.46 451.65) rotate(-45)" y="11.50">GSM388103</text>
<text transform="translate(3943.74 451.65) rotate(-45)" y="11.50">GSM388104</text>
<text transform="translate(3963.03 451.65) rotate(-45)" y="11.50">GSM388105</text>
<text transform="translate(3982.32 451.65) rotate(-45)" y="11.50">GSM388106</text>
<text transform="translate(4001.61 451.65) rotate(-45)" y="11.50">GSM388107</text>
<text transform="translate(4020.90 451.65) rotate(-45)" y="11.50">GSM388108</text>
<text transform="translate(4040.18 451.65) rotate(-45)" y="11.50">GSM388109</text>
<text transform="translate(4059.47 451.65) rotate(-45)" y="11.50">GSM388110</text>
<text transform="translate(4078.76 451.65) rotate(-45)" y="11.50">GSM388112</text>
<text transform="translate(4098.05 451.65) rotate(-45)" y="11.50">GSM388113</text>
<text transform="translate(4117.34 451.65) rotate(-45)" y="11.50">GSM388114</text>
<text transform="translate(4136.62 451.65) rotate(-45)" y="11.50">GSM414928</text>
<text transform="translate(4155.91 451.65) rotate(-45)" y="11.50">GSM414930</text>
<text transform="translate(4175.20 451.65) rotate(-45)" y="11.50">GSM414932</text>
<text transform="translate(4194.49 451.65) rotate(-45)" y="11.50">GSM414934</text>
<text transform="translate(4213.78 451.65) rotate(-45)" y="11.50">GSM414938</text>
<text transform="translate(4233.06 451.65) rotate(-45)" y="11.50">GSM414940</text>
<text transform="translate(4252.35 451.65) rotate(-45)" y="11.50">GSM414942</text>
<text transform="translate(4271.64 451.65) rotate(-45)" y="11.50">GSM414947</text>
<text transform="translate(4290.93 451.65) rotate(-45)" y="11.50">GSM414953</text>
<text transform="translate(4310.22 451.65) rotate(-45)" y="11.50">GSM414955</text>
<text transform="translate(4329.50 451.65) rotate(-45)" y="11.50">GSM414957</text>
<text transform="translate(4348.79 451.65) rotate(-45)" y="11.50">GSM414963</text>
<text transform="translate(4368.08 451.65) rotate(-45)" y="11.50">GSM414966</text>
<text transform="translate(4387.37 451.65) rotate(-45)" y="11.50">GSM414970</text>
<text transform="translate(4406.66 451.65) rotate(-45)" y="11.50">GSM414975</text>
<text transform="translate(4425.94 451.65) rotate(-45)" y="11.50">GSM563305</text>
<text transform="translate(4445.23 451.65) rotate(-45)" y="11.50">GSM563307</text>
<text transform="translate(4464.52 451.65) rotate(-45)" y="11.50">GSM563311</text>
<text transform="translate(4483.81 451.65) rotate(-45)" y="11.50">GSM563313</text>
<text transform="translate(4503.10 451.65) rotate(-45)" y="11.50">GSM563315</text>
<text transform="translate(4522.38 451.65) rotate(-45)" y="11.50">GSM1060741</text>
<text transform="translate(4541.67 451.65) rotate(-45)" y="11.50">GSM1849335</text>
<text transform="translate(4560.96 451.65) rotate(-45)" y="11.50">GSM1849336</text>
<text transform="translate(4580.25 451.65) rotate(-45)" y="11.50">GSM490138</text>
<text transform="translate(4599.54 451.65) rotate(-45)" y="11.50">GSM490139</text>
<text transform="translate(4618.82 451.65) rotate(-45)" y="11.50">GSM490140</text>
<text transform="translate(4638.11 451.65) rotate(-45)" y="11.50">GSM490142</text>
<text transform="translate(4657.40 451.65) rotate(-45)" y="11.50">GSM490143</text>
<text transform="translate(4676.69 451.65) rotate(-45)" y="11.50">GSM490144</text>
<text transform="translate(4695.98 451.65) rotate(-45)" y="11.50">GSM811029</text>
<text transform="translate(4715.26 451.65) rotate(-45)" y="11.50">GSM811030</text>
<text transform="translate(4734.55 451.65) rotate(-45)" y="11.50">GSM811031</text>
<text transform="translate(4753.84 451.65) rotate(-45)" y="11.50">GSM811032</text>
<text transform="translate(4773.13 451.65) rotate(-45)" y="11.50">GSM811033</text>
<text transform="translate(4792.42 451.65) rotate(-45)" y="11.50">GSM811034</text>
<text transform="translate(4811.70 451.65) rotate(-45)" y="11.50">GSM811035</text>
</g>
<text class="t" text-anchor="middle" transform="translate(72 251.30) rotate(-90)">Expression Level</text>
</svg></body></html>
